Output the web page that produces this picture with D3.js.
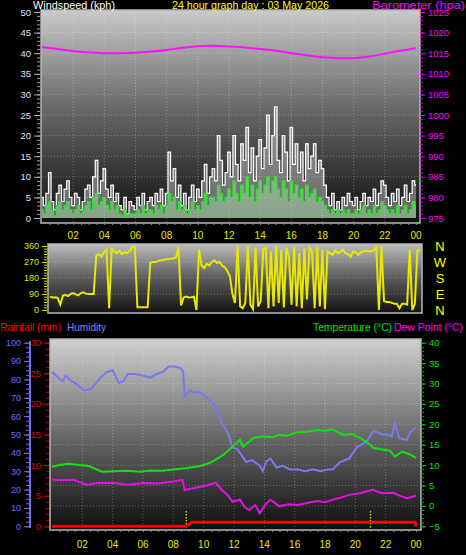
<!DOCTYPE html>
<html><head><meta charset="utf-8">
<script src="https://cdn.jsdelivr.net/npm/d3@7"></script>
<style>html,body{margin:0;padding:0;background:#000;}svg{display:block;font-family:"Liberation Sans",Arial,sans-serif;}</style>
</head><body>
<script>
// ---------- DATA ----------
const hourLabels = ["02","04","06","08","10","12","14","16","18","20","22","00"];
const hourTicks = [2,4,6,8,10,12,14,16,18,20,22,24];
// wind, 10-minute steps from 00:00 to 24:00 (kph)
const windGust = [5,3,6,11,4,2, 6,8,4,7,9,5, 3,6,5,2,4,7, 8,5,10,14,6,9, 12,7,5,8,4,6, 3,2,5,1,4,3,
  2,5,3,6,2,4, 5,3,6,4,7,3, 6,16,9,12,5,8, 3,6,2,5,8,4, 7,5,9,13,6,10, 12,9,20,14,8,11,
  16,10,20,13,9,18, 14,22,11,17,9,15, 19,12,17,25,13,20, 27,14,11,20,16,9, 22,13,18,11,16,9, 18,12,15,18,11,14,
  12,8,5,3,6,2, 4,2,5,3,6,4, 3,5,2,4,6,3, 5,4,7,3,6,9, 8,5,3,6,4,7, 3,5,8,4,6,9, 8];
const windAvg = [2,1,3,4,2,0.5, 3,4,2,3,4,2, 1,2,3,1,2,3, 4,2,5,6,3,4, 5,3,2,4,2,3, 1,0.5,2,0.5,1,1,
  1,2,1,3,1,2, 2,1,3,2,3,1, 3,6,4,5,2,4, 2,3,1,2,4,2, 3,2,4,6,3,5, 5,4,8,6,4,5,
  7,5,9,6,4,8, 6,10,5,8,4,7, 9,6,8,10,6,9, 10,7,5,9,7,4, 9,6,8,5,7,4, 8,5,6,7,4,5,
  4,3,2,1,2,1, 2,1,2,1,2,1, 1,2,1,2,3,1, 2,1,3,1,2,4, 3,2,1,2,1,3, 1,2,3,1,2,4, 3];
// barometer (hPa)
const baroTimes = [0,1,2,3,4,5,6,7,8,9,10,11,12,13,14,15,16,17,18,19,20,21,22,23,24];
const baroValues = [1016.5,1016.0,1015.5,1015.2,1015.0,1015.0,1015.1,1015.4,1015.8,1016.3,1016.7,1016.8,1016.6,1016.4,1016.0,1015.6,1015.0,1014.5,1014.0,1013.8,1013.8,1014.2,1014.9,1015.6,1016.2];
// wind direction, 10-minute steps (degrees)
const windDir = [75,70,72,68,30,80, 85,78,90,95,88,82, 95,100,92,90,90,90, 305,315,300,325,340,10,
  345,330,320,335,315,325, 320,330,355,355,15,15, 15,15,15,265,270,270, 275,280,280,285,285,290,
  290,295,355,25,70,75, 70,72,75,0,340,250, 235,260,250,270,280,265, 270,250,240,220,190,90,
  40,360,20,10,40,360, 30,5,350,20,50,340, 350,10,330,20,360,40, 340,15,350,300,30,355,
  20,320,10,345,60,350, 330,10,355,20,340,5, 330,320,310,335,320,325, 340,320,315,300,330,325,
  310,325,330,335,330,330, 335,355,0,360,50,45, 45,40,35,35,10,35, 35,30,340,0,35,335, 340];
const dirLabels = ["N","W","S","E","N"];
// humidity (%)
const humTimes = [0,0.4,0.7,0.9,1.3,1.7,2.1,2.6,3.2,3.6,4.0,4.4,4.7,5.0,5.5,6.0,6.5,6.9,7.3,7.7,8.1,8.5,8.65,8.75,9.1,9.4,9.75,10.2,10.6,10.9,11.2,11.6,11.9,12.2,12.4,12.8,13.2,13.7,13.9,14.1,14.4,14.8,15.2,15.7,16.2,16.7,17.2,17.7,18.2,18.5,19.0,19.6,20.1,20.5,20.8,21.2,21.5,21.8,22.1,22.4,22.6,22.9,23.4,23.6,24];
const humValues = [84,81,79,82,79,77,74,75,81,84,85,78,79,83,83,82,81,83,84,87,87,86,84,71,74,73,73,70,67,64,56,51,43,42,40,35,36,33,30,35,37,32,33,31,31,30,31,30,31,31,35,37,43,45,47,52,51,50,50,49,56,48,47,51,54];
// temperature (°C)
const tempTimes = [0,0.5,1.1,1.8,2.4,3.3,4,5,5.8,6.5,7.3,8,8.9,9.75,10.3,10.6,11.3,11.9,12.4,12.6,13.3,13.9,14.5,15,15.5,16.1,16.8,17.5,18,18.5,19.2,19.8,20.3,20.8,21.2,21.8,22.3,22.6,23.1,23.6,24];
const tempValues = [9.6,10,10.3,10,9.8,8.4,8.5,8.6,8.4,8.7,8.6,8.9,9.3,9.8,10.4,10.9,12.5,14.5,16.2,14.5,16.7,17,16.8,17.4,17.2,18,18.2,18.6,18.4,18.8,17.4,17.6,16.7,15.5,14.2,13.8,13.5,12.1,13.3,12.6,11.8];
// dew point (°C)
const dewTimes = [0,0.6,1.4,2.3,3,4,5,6,7,8,8.6,8.75,9.3,10.2,10.8,11.2,11.6,11.9,12.4,12.7,13,13.4,13.7,14.1,14.4,15,15.6,16.2,16.8,17.5,18,18.5,19,19.6,20.3,21.2,21.5,21.8,22.5,23,23.4,24];
const dewValues = [6.5,6.3,6.4,5.2,5.6,5.7,5.2,5.6,5.5,6,6.4,3.9,4.3,5,5.7,3.9,2.6,1,1.5,-0.3,-1,0.2,-1.8,0.5,1.5,-0.1,0.4,0.2,0.7,1.2,0.9,1.5,2,2.7,3.1,4,3.4,3.1,3.2,2.4,1.9,2.5];
// rainfall (mm)
const rainTimes = [0,8.85,9.2,23.95,24];
const rainValues = [0,0,0.65,0.65,0];
const rainMarkers = [8.85,21.0];

// ---------- DRAW ----------
const W=466,H=555;
const svg=d3.select("body").append("svg").attr("width",W).attr("height",H);
svg.append("rect").attr("width",W).attr("height",H).attr("fill","#000");
const defs=svg.append("defs");
function grad(id,stops){const g=defs.append("linearGradient").attr("id",id).attr("x1",0).attr("y1",0).attr("x2",0).attr("y2",1);
  stops.forEach(s=>g.append("stop").attr("offset",s[0]).attr("stop-color",s[1]));}
grad("gTop",[[0,"#cacaca"],[0.45,"#6a6a6a"],[1,"#0e0e0e"]]);
grad("gMid",[[0,"#bdbdbd"],[0.5,"#5a5a5a"],[1,"#121212"]]);
grad("gBot",[[0,"#d0d0d0"],[0.5,"#6a6a6a"],[1,"#0e0e0e"]]);
const idx=(arr)=>arr.map((v,i)=>[i/6,v]);

function panel(x0,y0,x1,y1,fill){
  svg.append("rect").attr("x",x0).attr("y",y0).attr("width",x1-x0).attr("height",y1-y0).attr("fill",`url(#${fill})`);
}
function frame(x0,y0,x1,y1){
  svg.append("rect").attr("x",x0).attr("y",y0).attr("width",x1-x0).attr("height",y1-y0)
    .attr("fill","none").attr("stroke","#b8b8b8").attr("stroke-width",1.5);
}
function gridH(x0,x1,ys){svg.append("g").selectAll("line").data(ys).join("line")
  .attr("x1",x0).attr("x2",x1).attr("y1",d=>d).attr("y2",d=>d)
  .attr("stroke","rgba(255,255,255,0.28)").attr("stroke-dasharray","1,2");}
function gridV(y0,y1,xs){svg.append("g").selectAll("line").data(xs).join("line")
  .attr("y1",y0).attr("y2",y1).attr("x1",d=>d).attr("x2",d=>d)
  .attr("stroke","rgba(255,255,255,0.28)").attr("stroke-dasharray","1,2");}
function hourAxis(x,y,labY){
  const ax=d3.axisBottom(x).tickValues(d3.range(0.5,24.01,0.5)).tickSize(2).tickFormat("");
  const g=svg.append("g").attr("transform",`translate(0,${y})`).call(ax);
  g.select(".domain").remove(); g.selectAll("line").attr("stroke","#909090");
  svg.append("g").selectAll("text").data(hourTicks).join("text")
    .attr("x",d=>x(d)).attr("y",labY).attr("text-anchor","middle").attr("font-size",10)
    .attr("fill","#e8e800").text((d,i)=>hourLabels[i]);
}
function title(x,y,len,color,txt){
  svg.append("text").attr("x",x).attr("y",y).attr("font-size",11).attr("fill",color)
    .attr("textLength",len).attr("lengthAdjust","spacingAndGlyphs").text(txt);
}

// ===== TOP chart =====
const xT=d3.scaleLinear().domain([0,24]).range([42,416]);
const yW=d3.scaleLinear().domain([0,50]).range([218,12]);
const yB=d3.scaleLinear().domain([975,1025]).range([218,12]);
panel(41,10,420,223,"gTop");
gridH(42,419,d3.range(5,50,5).map(yW));
gridV(11,222,hourTicks.slice(0,11).map(xT));
const gustPts=idx(windGust), avgPts=idx(windAvg);
svg.append("path").datum(gustPts).attr("fill","rgba(255,255,255,0.35)")
  .attr("d",d3.area().x(d=>xT(d[0])).y0(yW(0)).y1(d=>yW(d[1])).curve(d3.curveStep));
svg.append("path").datum(gustPts).attr("fill","none").attr("stroke","#ffffff").attr("stroke-width",1.2)
  .attr("d",d3.line().x(d=>xT(d[0])).y(d=>yW(d[1])).curve(d3.curveStep));
svg.append("path").datum(avgPts).attr("fill","rgba(190,255,190,0.4)")
  .attr("d",d3.area().x(d=>xT(d[0])).y0(yW(0)).y1(d=>yW(d[1])).curve(d3.curveStep));
svg.append("path").datum(avgPts).attr("fill","none").attr("stroke","#30e030").attr("stroke-width",1.2)
  .attr("d",d3.line().x(d=>xT(d[0])).y(d=>yW(d[1])).curve(d3.curveStep));
svg.append("path").datum(baroTimes.map((t,i)=>[t,baroValues[i]])).attr("fill","none")
  .attr("stroke","#ff10ff").attr("stroke-width",2)
  .attr("d",d3.line().x(d=>xT(d[0])).y(d=>yB(d[1])).curve(d3.curveMonotoneX));
frame(41,10,420,223);
// left axis
{const ax=d3.axisLeft(yW).tickValues(d3.range(0,51,1)).tickSize(3).tickFormat("");
 const g=svg.append("g").attr("transform","translate(40,0)").call(ax);
 g.select(".domain").remove(); g.selectAll("line").attr("stroke","#a0a0a0");
 const ax2=d3.axisLeft(yW).tickValues(d3.range(0,51,5)).tickSize(6).tickFormat(d3.format("d"));
 const g2=svg.append("g").attr("transform","translate(40,0)").call(ax2);
 g2.select(".domain").remove(); g2.selectAll("line").attr("stroke","#b0b0b0");
 g2.selectAll("text").attr("fill","#dce6ff").attr("font-size",9.5).attr("font-family","Liberation Sans, Arial");}
// right axis
{const ax=d3.axisRight(yB).tickValues(d3.range(975,1026,1)).tickSize(3).tickFormat("");
 const g=svg.append("g").attr("transform","translate(420,0)").call(ax);
 g.select(".domain").remove(); g.selectAll("line").attr("stroke","#d000d0");
 const ax2=d3.axisRight(yB).tickValues(d3.range(975,1026,5)).tickSize(5).tickFormat(d3.format("d"));
 const g2=svg.append("g").attr("transform","translate(420,0)").call(ax2);
 g2.select(".domain").remove(); g2.selectAll("line").attr("stroke","#e000e0");
 g2.selectAll("text").attr("fill","#ff00ff").attr("font-size",9.5).attr("font-family","Liberation Sans, Arial");}
hourAxis(xT,223,239);
title(33,9,82,"#ffffff","Windspeed (kph)");
title(172,9,157,"#ffff00","24 hour graph day : 03 May 2026");
title(372,9,93,"#ff00ff","Barometer (hpa)");

// ===== MIDDLE chart =====
const xM=d3.scaleLinear().domain([0,24]).range([50,420]);
const yD=d3.scaleLinear().domain([0,360]).range([310,246]);
panel(48,244,422,313,"gMid");
gridH(49,421,[90,180,270].map(yD));
svg.append("path").datum(idx(windDir)).attr("fill","none").attr("stroke","#e8e800").attr("stroke-width",2)
  .attr("d",d3.line().x(d=>xM(d[0])).y(d=>yD(d[1])));
frame(48,244,422,313);
{const ax=d3.axisLeft(yD).tickValues(d3.range(0,361,15)).tickSize(3).tickFormat("");
 const g=svg.append("g").attr("transform","translate(47,0)").call(ax);
 g.select(".domain").remove(); g.selectAll("line").attr("stroke","#c8d800");
 const ax2=d3.axisLeft(yD).tickValues([0,90,180,270,360]).tickSize(5).tickFormat(d3.format("d"));
 const g2=svg.append("g").attr("transform","translate(47,0)").call(ax2);
 g2.select(".domain").remove(); g2.selectAll("line").attr("stroke","#c8d800");
 g2.selectAll("text").attr("fill","#d8e800").attr("font-size",9).attr("font-family","Liberation Sans, Arial");}
svg.append("g").selectAll("text").data(dirLabels).join("text")
  .attr("x",440).attr("y",(d,i)=>yD(360-i*90)+5).attr("text-anchor","middle")
  .attr("font-size",13).attr("fill","#ffff00").text(d=>d);

// ===== BOTTOM chart =====
const xBt=d3.scaleLinear().domain([0,24]).range([52,416]);
const yH=d3.scaleLinear().domain([0,100]).range([526.3,342.7]);
const yR=d3.scaleLinear().domain([0,30]).range([526.3,342.7]);
const yTp=d3.scaleLinear().domain([-5,40]).range([526.3,342.7]);
panel(50,339,421,530,"gBot");
gridH(51,420,d3.range(0,40,5).map(yTp));
gridV(340,529,hourTicks.slice(0,11).map(xBt));
const ln=(ys)=>d3.line().x(d=>xBt(d[0])).y(d=>ys(d[1]));
svg.append("g").selectAll("line").data(rainMarkers).join("line")
  .attr("x1",d=>xBt(d)).attr("x2",d=>xBt(d)).attr("y1",511).attr("y2",529)
  .attr("stroke","#e8e800").attr("stroke-width",1.2).attr("stroke-dasharray","1.5,1.5");
svg.append("path").datum(humTimes.map((t,i)=>[t,humValues[i]])).attr("fill","none")
  .attr("stroke","#7878f0").attr("stroke-width",2).attr("d",ln(yH));
svg.append("path").datum(tempTimes.map((t,i)=>[t,tempValues[i]])).attr("fill","none")
  .attr("stroke","#10e010").attr("stroke-width",2).attr("d",ln(yTp));
svg.append("path").datum(dewTimes.map((t,i)=>[t,dewValues[i]])).attr("fill","none")
  .attr("stroke","#e010e0").attr("stroke-width",2).attr("d",ln(yTp));
svg.append("path").datum(rainTimes.map((t,i)=>[t,rainValues[i]])).attr("fill","none")
  .attr("stroke","#ff0000").attr("stroke-width",3).attr("d",ln(yR));
frame(50,339,421,530);
// humidity axis
svg.append("line").attr("x1",30).attr("x2",30).attr("y1",341).attr("y2",528).attr("stroke","#7070f0").attr("stroke-width",2);
{const ax=d3.axisLeft(yH).tickValues(d3.range(0,101,2.5)).tickSize(3).tickFormat("");
 const g=svg.append("g").attr("transform","translate(29,0)").call(ax);
 g.select(".domain").remove(); g.selectAll("line").attr("stroke","#7070f0");
 const ax2=d3.axisLeft(yH).tickValues(d3.range(0,101,10)).tickSize(5).tickFormat(d3.format("d"));
 const g2=svg.append("g").attr("transform","translate(29,0)").call(ax2);
 g2.select(".domain").remove(); g2.selectAll("line").attr("stroke","#7070f0");
 g2.selectAll("text").attr("fill","#6e6eff").attr("font-size",9).attr("font-family","Liberation Sans, Arial");}
// rain axis
{const ax=d3.axisLeft(yR).tickValues(d3.range(0,31,1)).tickSize(3).tickFormat("");
 const g=svg.append("g").attr("transform","translate(49,0)").call(ax);
 g.select(".domain").remove(); g.selectAll("line").attr("stroke","#c00000");
 const ax2=d3.axisLeft(yR).tickValues(d3.range(0,31,5)).tickSize(5).tickFormat(d3.format("d"));
 const g2=svg.append("g").attr("transform","translate(49,0)").call(ax2);
 g2.select(".domain").remove(); g2.selectAll("line").attr("stroke","#e00000");
 g2.selectAll("text").attr("fill","#e00000").attr("font-size",9.5).attr("font-family","Liberation Sans, Arial");}
// temperature axis
{const ax=d3.axisRight(yTp).tickValues(d3.range(-5,41,1)).tickSize(3).tickFormat("");
 const g=svg.append("g").attr("transform","translate(421,0)").call(ax);
 g.select(".domain").remove(); g.selectAll("line").attr("stroke","#00b000");
 const ax2=d3.axisRight(yTp).tickValues(d3.range(-5,41,5)).tickSize(5).tickFormat(d3.format("d"));
 const g2=svg.append("g").attr("transform","translate(421,0)").call(ax2);
 g2.select(".domain").remove(); g2.selectAll("line").attr("stroke","#00d000");
 g2.selectAll("text").attr("fill","#00e000").attr("font-size",9.5).attr("font-family","Liberation Sans, Arial");}
hourAxis(xBt,530,548);
title(0,331,61,"#ff0000","Rainfall (mm)");
title(67,331,39,"#8080ff","Humidity");
title(313,331,79,"#00e000","Temperature (°C)");
title(394,331,69,"#ff00ff","Dew Point (°C)");
</script>
</body></html>
